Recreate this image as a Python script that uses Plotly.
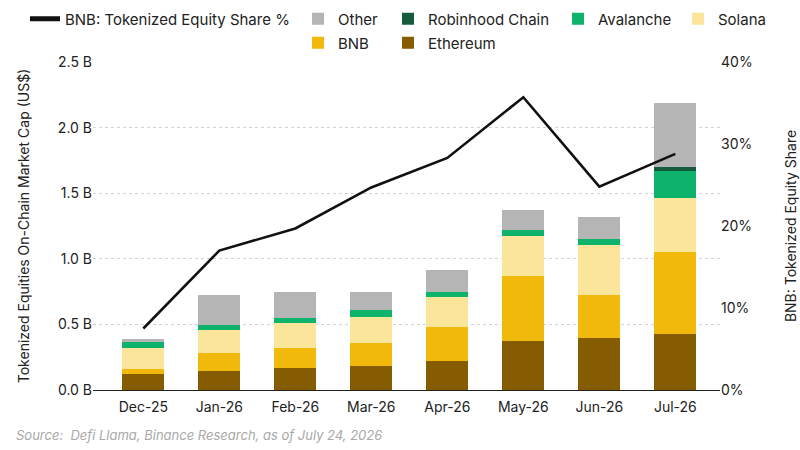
import plotly.graph_objects as go

months = ["Dec-25", "Jan-26", "Feb-26", "Mar-26", "Apr-26", "May-26", "Jun-26", "Jul-26"]

ethereum = [0.121, 0.147, 0.167, 0.182, 0.220, 0.377, 0.393, 0.425]
bnb = [0.038, 0.132, 0.152, 0.180, 0.261, 0.489, 0.331, 0.625]
solana = [0.162, 0.182, 0.192, 0.198, 0.225, 0.306, 0.385, 0.413]
avalanche = [0.046, 0.038, 0.036, 0.047, 0.038, 0.048, 0.040, 0.207]
robinhood = [0, 0, 0, 0, 0, 0, 0, 0.033]
other = [0.018, 0.228, 0.197, 0.137, 0.172, 0.149, 0.172, 0.482]

bnb_share = [7.5, 17.0, 19.7, 24.7, 28.3, 35.7, 24.8, 28.8]

left_ticks = [0, 0.5, 1.0, 1.5, 2.0, 2.5]
left_ticktext = ["0.0 B", "0.5 B", "1.0 B", "1.5 B", "2.0 B", "2.5 B"]
right_ticks = [0, 10, 20, 30, 40]
right_ticktext = ["0%", "10%", "20%", "30%", "40%"]

FONT = "Inter"
W, H = 800, 450

series = [
    ("Ethereum", ethereum, "#855c00", "legend7"),
    ("BNB", bnb, "#f0b90b", "legend6"),
    ("Solana", solana, "#fbe59a", "legend5"),
    ("Avalanche", avalanche, "#0db36a", "legend4"),
    ("Robinhood Chain", robinhood, "#155c3e", "legend3"),
    ("Other", other, "#b5b5b5", "legend2"),
]
legend_pos = {
    "legend": (45, 19),
    "legend2": (318, 19),
    "legend3": (408, 19),
    "legend4": (578, 19),
    "legend5": (698, 19),
    "legend6": (318, 43),
    "legend7": (408, 43),
}

fig = go.Figure()

for name, vals, color, lg in series:
    fig.add_trace(go.Bar(
        x=months, y=vals, name=name, marker=dict(color=color, line=dict(width=0)),
        width=0.55, legend=lg, yaxis="y",
    ))

fig.add_trace(go.Scatter(
    x=months, y=bnb_share, name="BNB: Tokenized Equity Share %", mode="lines",
    line=dict(color="#111111", width=2.6), yaxis="y2", showlegend=False,
))
# legend-only entry with thicker stroke, as in the reference key
fig.add_trace(go.Scatter(
    x=[months[0]], y=[None], name="BNB: Tokenized Equity Share %", mode="lines",
    line=dict(color="#111111", width=5), yaxis="y2", legend="legend",
))

legends = {}
for key, (px, py) in legend_pos.items():
    legends[key] = dict(
        xref="container", yref="container",
        x=(px - 20) / W, y=1 - py / H, xanchor="left", yanchor="middle",
        orientation="h", bgcolor="rgba(0,0,0,0)", borderwidth=0,
        font=dict(family=FONT, size=15, color="#222222"),
        itemclick=False,
    )

fig.update_layout(
    width=W, height=H,
    margin=dict(l=93, r=80, t=62, b=60, autoexpand=False),
    barmode="stack",
    plot_bgcolor="white", paper_bgcolor="white",
    font=dict(family=FONT, size=14, color="#222222"),
    xaxis=dict(
        type="category", range=[-0.662, 7.588],
        showline=True, linecolor="#222222", linewidth=1.2,
        showgrid=False, ticks="", ticklabelstandoff=4,
        tickfont=dict(size=14, color="#222222"),
    ),
    yaxis=dict(
        range=[0, 2.5], tickvals=left_ticks, ticktext=left_ticktext,
        showgrid=True, gridcolor="#d2d2d2", griddash="dot", gridwidth=1,
        zeroline=False, showline=False, ticks="",
        tickfont=dict(size=14, color="#222222"),
        title=dict(text="Tokenized Equities On-Chain Market Cap (US$)",
                   font=dict(size=14, color="#222222"), standoff=24),
    ),
    yaxis2=dict(
        range=[0, 40], overlaying="y", side="right",
        tickvals=right_ticks, ticktext=right_ticktext,
        showgrid=False, zeroline=False, showline=False, ticks="",
        tickfont=dict(size=14, color="#222222"),
        title=dict(text="BNB: Tokenized Equity Share",
                   font=dict(size=14, color="#222222"), standoff=34),
    ),
    annotations=[dict(
        text="Source:  Defi Llama, Binance Research, as of July 24, 2026",
        xref="paper", yref="paper", x=(14 - 93) / 627, y=(390 - 435) / 328,
        xanchor="left", yanchor="middle", showarrow=False,
        font=dict(family=FONT, size=13, color="#a8a8a8", style="italic"),
    )],
    **legends,
)

fig.write_html(
    "out.html",
    config={"displayModeBar": False},
    post_script="document.body.style.margin='0';",
)
